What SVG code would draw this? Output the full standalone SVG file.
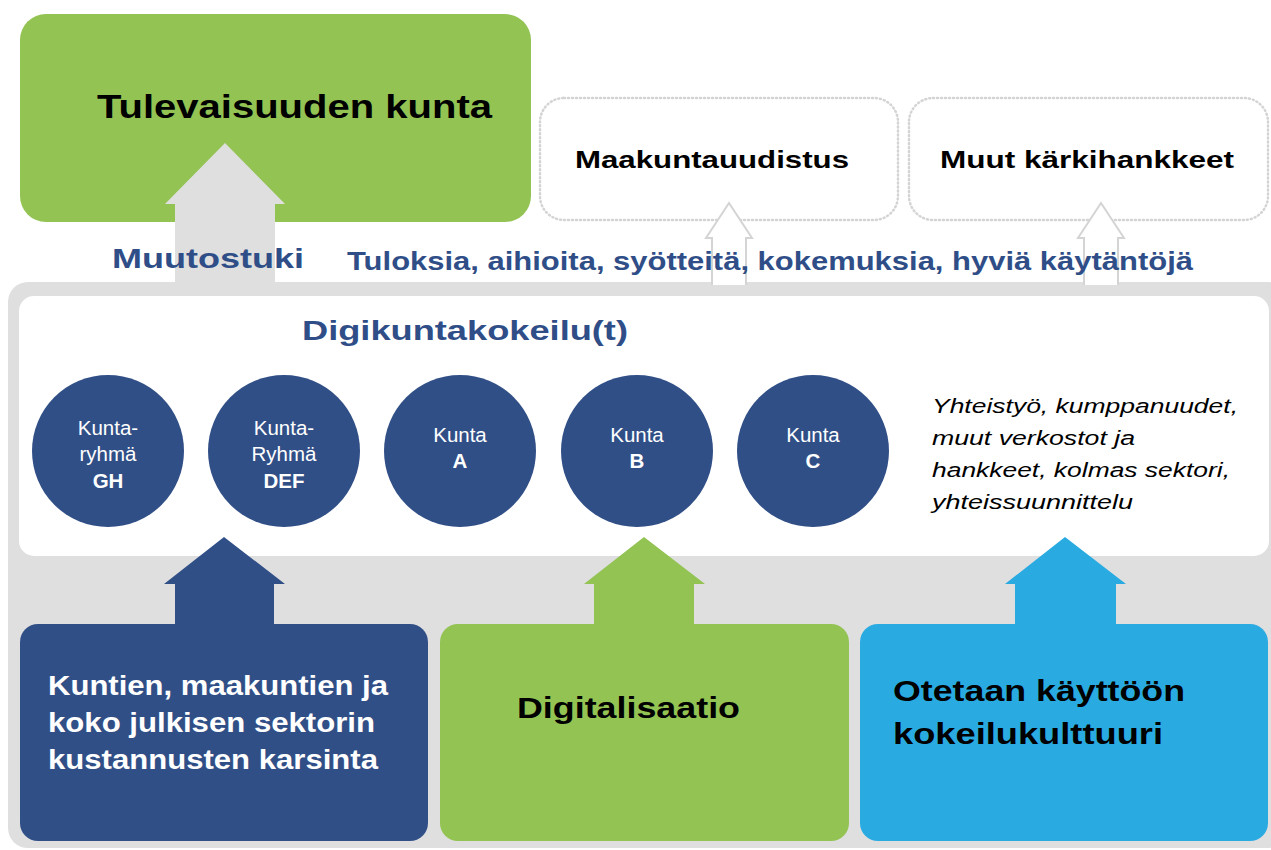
<svg xmlns="http://www.w3.org/2000/svg" width="1271" height="850" viewBox="0 0 1271 850">
<style>
.b{font-family:"Liberation Sans",Arial,sans-serif;font-weight:bold}
.blk{fill:#000}
.blu{fill:#2F4E88}
.wht{fill:#fff}
.c{font-family:"Liberation Sans",Arial,sans-serif;font-size:20.5px;fill:#fff;text-anchor:middle}
.cb{font-weight:bold}
.it{font-family:"Liberation Sans",Arial,sans-serif;font-style:italic;font-size:20px;fill:#000}
.dot{fill:#fff;stroke:#D4D4D4;stroke-width:2.5;stroke-dasharray:1 3;stroke-linecap:round}
.circ{fill:#314F87}
</style>
<rect width="1271" height="850" fill="#fff"/>
<g id="background">
<rect x="8" y="282" width="1280" height="566" rx="20" fill="#DFDFDF"/>
</g>
<g id="panel">
<rect x="19" y="296" width="1250" height="260" rx="15" fill="#fff"/>
</g>
<g id="tulevaisuus">
<rect x="20" y="14" width="511" height="208" rx="26" fill="#92C353"/>
<text class="b blk" x="97" y="118" font-size="34" textLength="395" lengthAdjust="spacingAndGlyphs">Tulevaisuuden kunta</text>
</g>
<g id="maakunta">
<rect class="dot" x="540" y="98" width="358" height="122" rx="24"/>
<text class="b blk" x="712" y="168" font-size="24" text-anchor="middle" textLength="274" lengthAdjust="spacingAndGlyphs">Maakuntauudistus</text>
</g>
<g id="muut">
<rect class="dot" x="909" y="98" width="359" height="122" rx="24"/>
<text class="b blk" x="1087" y="168" font-size="24" text-anchor="middle" textLength="294" lengthAdjust="spacingAndGlyphs">Muut kärkihankkeet</text>
</g>
<g id="connectors">
<path d="M175,285 V204 H165 L225,143 L285,204 H275 V285 Z" fill="#DFDFDF"/>
<path d="M712,285 V238 H706 L729,203 L752,238 H746 V285" fill="#fff" stroke="#D4D4D4" stroke-width="2"/>
<path d="M1084,285 V238 H1078 L1101,203 L1124,238 H1118 V285" fill="#fff" stroke="#D4D4D4" stroke-width="2"/>
<path d="M175,625 V584 H164 L224,537 L285,584 H274 V625 Z" fill="#314F87"/>
<path d="M594,625 V584 H584 L644,537 L705,584 H694 V625 Z" fill="#92C353"/>
<path d="M1015,625 V584 H1005 L1065,537 L1126,584 H1116 V625 Z" fill="#29ABE2"/>
</g>
<g id="labels">
<text class="b blu" x="112" y="268" font-size="28" textLength="192" lengthAdjust="spacingAndGlyphs">Muutostuki</text>
<text class="b blu" x="347" y="270" font-size="25" textLength="846" lengthAdjust="spacingAndGlyphs">Tuloksia, aihioita, syötteitä, kokemuksia, hyviä käytäntöjä</text>
<text class="b blu" x="302" y="340" font-size="28" textLength="326" lengthAdjust="spacingAndGlyphs">Digikuntakokeilu(t)</text>
</g>
<g id="kunta-gh">
<circle class="circ" cx="108" cy="451" r="76"/>
<text class="c" x="108" y="435">Kunta-</text>
<text class="c" x="108" y="461">ryhmä</text>
<text class="c cb" x="108" y="488">GH</text>
</g>
<g id="kunta-def">
<circle class="circ" cx="284" cy="451" r="76"/>
<text class="c" x="284" y="435">Kunta-</text>
<text class="c" x="284" y="461">Ryhmä</text>
<text class="c cb" x="284" y="488">DEF</text>
</g>
<g id="kunta-a">
<circle class="circ" cx="460" cy="451" r="76"/>
<text class="c" x="460" y="442">Kunta</text>
<text class="c cb" x="460" y="468">A</text>
</g>
<g id="kunta-b">
<circle class="circ" cx="637" cy="451" r="76"/>
<text class="c" x="637" y="442">Kunta</text>
<text class="c cb" x="637" y="468">B</text>
</g>
<g id="kunta-c">
<circle class="circ" cx="813" cy="451" r="76"/>
<text class="c" x="813" y="442">Kunta</text>
<text class="c cb" x="813" y="468">C</text>
</g>
<g id="yhteistyo">
<text class="it" x="932" y="413" textLength="306" lengthAdjust="spacingAndGlyphs">Yhteistyö, kumppanuudet,</text>
<text class="it" x="932" y="445" textLength="203" lengthAdjust="spacingAndGlyphs">muut verkostot ja</text>
<text class="it" x="932" y="477" textLength="298" lengthAdjust="spacingAndGlyphs">hankkeet, kolmas sektori,</text>
<text class="it" x="932" y="509" textLength="201" lengthAdjust="spacingAndGlyphs">yhteissuunnittelu</text>
</g>
<g id="kustannukset">
<rect x="20" y="624" width="408" height="217" rx="18" fill="#314F87"/>
<text class="b wht" x="48" y="695" font-size="27" textLength="340" lengthAdjust="spacingAndGlyphs">Kuntien, maakuntien ja</text>
<text class="b wht" x="48" y="732" font-size="27" textLength="327" lengthAdjust="spacingAndGlyphs">koko julkisen sektorin</text>
<text class="b wht" x="48" y="769" font-size="27" textLength="330" lengthAdjust="spacingAndGlyphs">kustannusten karsinta</text>
</g>
<g id="digitalisaatio">
<rect x="440" y="624" width="409" height="217" rx="18" fill="#92C353"/>
<text class="b blk" x="517" y="718" font-size="29" textLength="223" lengthAdjust="spacingAndGlyphs">Digitalisaatio</text>
</g>
<g id="kokeilukulttuuri">
<rect x="860" y="624" width="408" height="217" rx="18" fill="#29ABE2"/>
<text class="b blk" x="893" y="701" font-size="29" textLength="292" lengthAdjust="spacingAndGlyphs">Otetaan käyttöön</text>
<text class="b blk" x="893" y="744" font-size="29" textLength="270" lengthAdjust="spacingAndGlyphs">kokeilukulttuuri</text>
</g>
</svg>
